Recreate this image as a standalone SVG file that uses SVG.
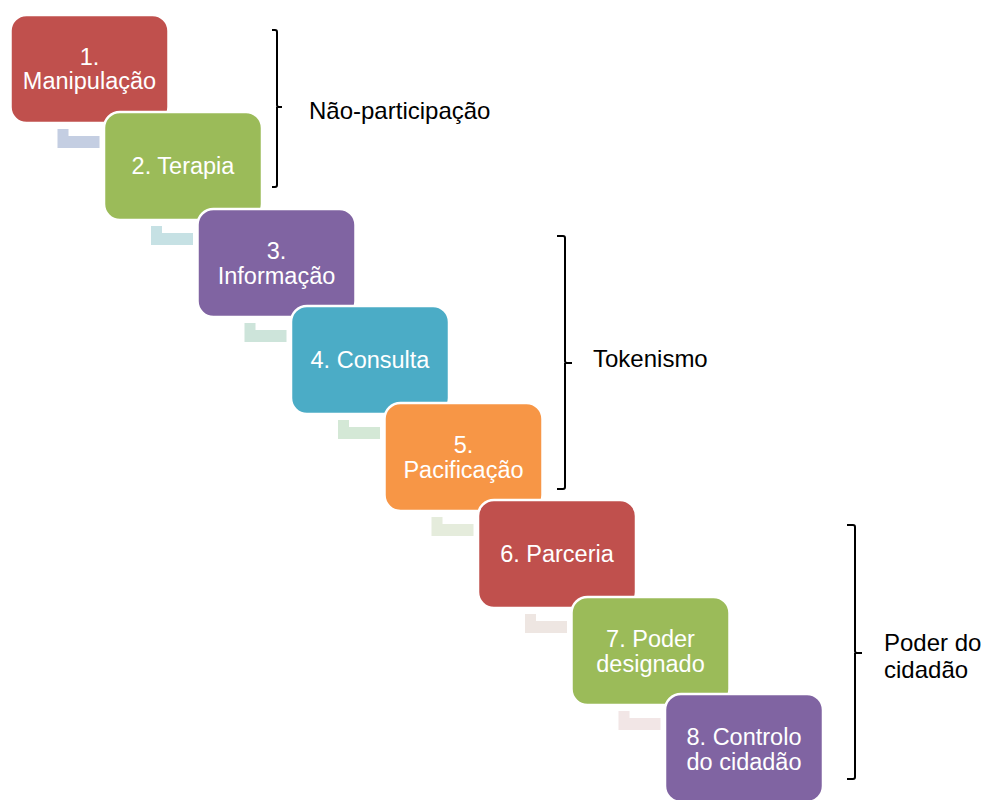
<svg xmlns="http://www.w3.org/2000/svg" width="984" height="800" viewBox="0 0 984 800">
<style>
.box{stroke:#fff;stroke-width:2.5}
.t{font-family:"Liberation Sans",Arial,sans-serif;font-size:23.5px;fill:#fff;text-anchor:middle}
.l{font-family:"Liberation Sans",Arial,sans-serif;font-size:24px;fill:#000}
.br{fill:none;stroke:#000;stroke-width:2}
</style>
<defs>
<path id="conn" d="M47 114h11v7h31v12h-42z"/>
</defs>
<rect width="984" height="800" fill="#fff"/>
<g id="connectors">
<use href="#conn" transform="translate(10.5,15)" fill="#C4CEE2"/>
<use href="#conn" transform="translate(104,112)" fill="#C6E1E4"/>
<use href="#conn" transform="translate(197.5,209)" fill="#CDE4DA"/>
<use href="#conn" transform="translate(291,306)" fill="#D4E8D6"/>
<use href="#conn" transform="translate(384.5,403)" fill="#E5ECDC"/>
<use href="#conn" transform="translate(478,500)" fill="#EEE6E2"/>
<use href="#conn" transform="translate(571.5,597)" fill="#F2E6E6"/>
</g>
<g id="n1"><rect class="box" x="10.5" y="15" width="158" height="108" rx="16" fill="#C0504D"/><text class="t" x="89.5" y="65">1.</text><text class="t" x="89.5" y="89">Manipulação</text></g>
<g id="n2"><rect class="box" x="104" y="112" width="158" height="108" rx="16" fill="#9BBB59"/><text class="t" x="183" y="174">2. Terapia</text></g>
<g id="n3"><rect class="box" x="197.5" y="209" width="158" height="108" rx="16" fill="#8064A2"/><text class="t" x="276.5" y="259">3.</text><text class="t" x="276.5" y="284">Informação</text></g>
<g id="n4"><rect class="box" x="291" y="306" width="158" height="108" rx="16" fill="#4BACC6"/><text class="t" x="370" y="368">4. Consulta</text></g>
<g id="n5"><rect class="box" x="384.5" y="403" width="158" height="108" rx="16" fill="#F79646"/><text class="t" x="463.5" y="453">5.</text><text class="t" x="463.5" y="478">Pacificação</text></g>
<g id="n6"><rect class="box" x="478" y="500" width="158" height="108" rx="16" fill="#C0504D"/><text class="t" x="557" y="562">6. Parceria</text></g>
<g id="n7"><rect class="box" x="571.5" y="597" width="158" height="108" rx="16" fill="#9BBB59"/><text class="t" x="650.5" y="647">7. Poder</text><text class="t" x="650.5" y="672">designado</text></g>
<g id="n8"><rect class="box" x="665" y="694" width="158" height="108" rx="16" fill="#8064A2"/><text class="t" x="744" y="745">8. Controlo</text><text class="t" x="744" y="770">do cidadão</text></g>
<g id="b1"><path class="br" d="M272 30h3q2 0 2 2v73q0 2 2 2h3M277 107v78q0 2-2 2h-3"/><text class="l" x="309" y="119">Não-participação</text></g>
<g id="b2"><path class="br" d="M557 236h6q2 0 2 2v123q0 2 2 2h5M565 363v124q0 2-2 2h-6"/><text class="l" x="593" y="367">Tokenismo</text></g>
<g id="b3"><path class="br" d="M847 525h6q2 0 2 2v124q0 2 2 2h5M855 653v124q0 2-2 2h-6"/><text class="l" x="884" y="651">Poder do</text><text class="l" x="884" y="678">cidadão</text></g>
</svg>
